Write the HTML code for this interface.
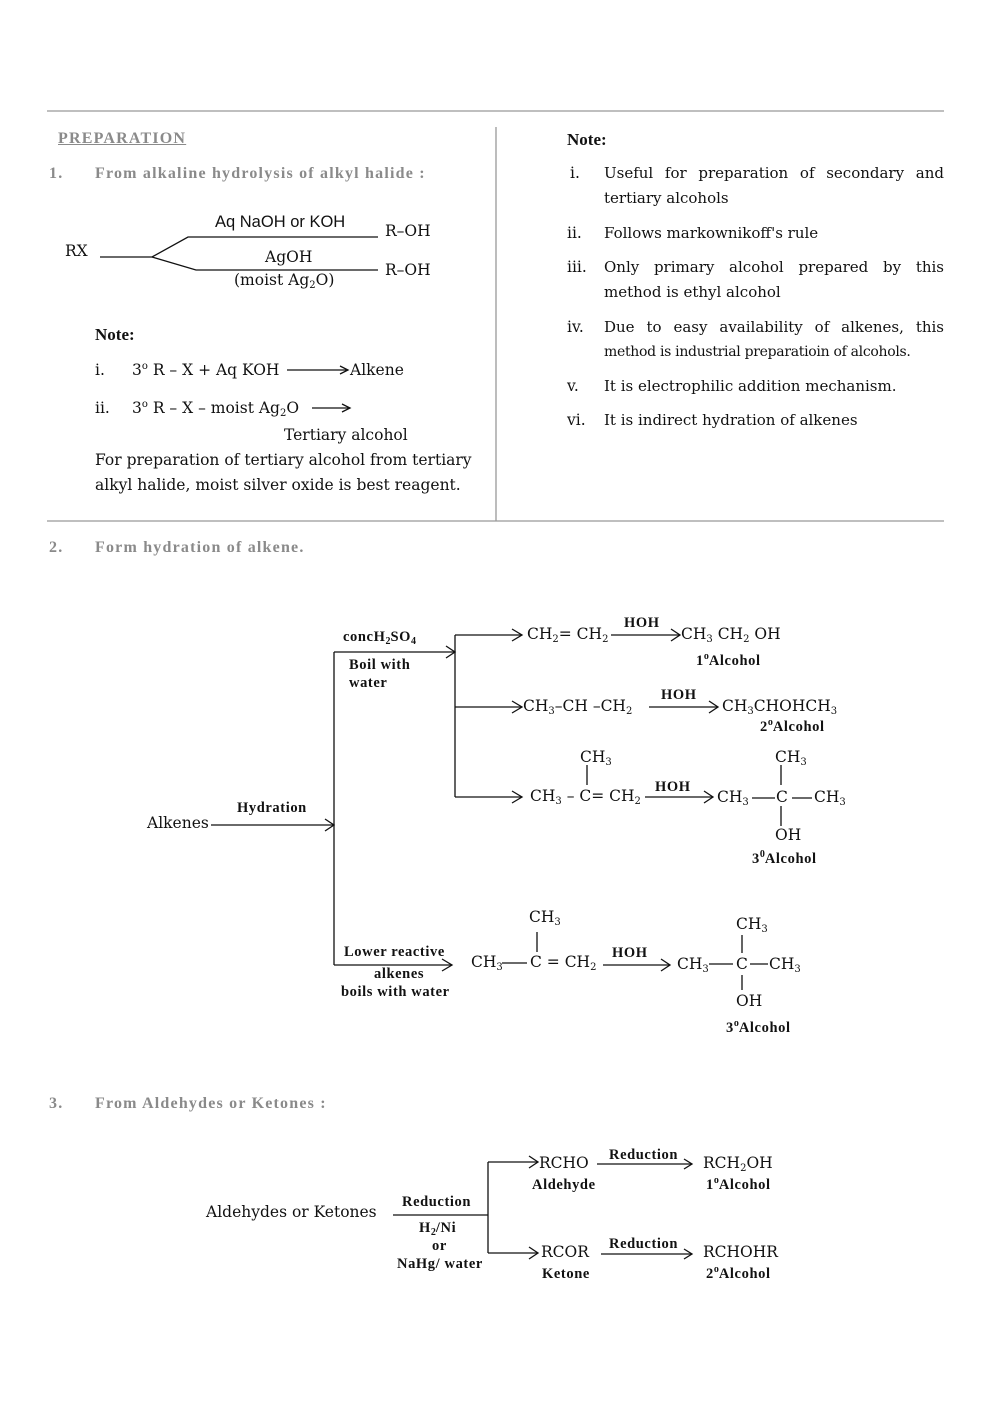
<!DOCTYPE html>
<html><head><meta charset="utf-8"><style>
body{margin:0;width:992px;height:1403px;background:#fff;position:relative;font-family:"DejaVu Serif",serif;color:#111;overflow:hidden}
.t{position:absolute;font-size:15.5px;white-space:nowrap;line-height:1;font-family:"DejaVu Serif",serif}
.b{font-weight:bold;font-family:"Liberation Serif",serif;font-size:16px}
.n{font-size:17px}
.g{color:#8a8a8a;font-weight:bold;font-family:"Liberation Serif",serif;font-size:16px;letter-spacing:1.2px}
.s{font-size:14.5px;letter-spacing:0.6px}
sub{font-size:10px;vertical-align:-3px;line-height:0;letter-spacing:0}
sup{font-size:10px;vertical-align:6px;line-height:0;letter-spacing:0}
.j{position:absolute;font-size:15px;line-height:1;width:340px;text-align:justify;text-align-last:justify;white-space:nowrap;font-family:"DejaVu Serif",serif}
svg{position:absolute;left:0;top:0}
</style></head><body>
<svg width="992" height="1403" stroke="#111" stroke-width="1.3" fill="none">
<line x1="47" y1="111" x2="944" y2="111" stroke="#999"/>
<line x1="47" y1="521" x2="944" y2="521" stroke="#999"/>
<line x1="496" y1="127" x2="496" y2="521" stroke="#999"/>
<polyline points="100,257 152,257 188,237 378,237"/>
<polyline points="152,257 196,270 378,270"/>
<line x1="287" y1="370" x2="348" y2="370"/><polyline points="340,366 348,370 340,374"/>
<line x1="312" y1="408" x2="350" y2="408"/><polyline points="342,404 350,408 342,412"/>
<line x1="211" y1="825" x2="333" y2="825"/><polyline points="325,819 334,825 325,831"/>
<line x1="334" y1="652" x2="334" y2="965"/>
<line x1="334" y1="652" x2="455" y2="652"/><polyline points="446,646 455,652 446,658"/>
<line x1="455" y1="635" x2="455" y2="797"/>
<line x1="455" y1="635" x2="522" y2="635"/><polyline points="512,629 522,635 512,641"/>
<line x1="455" y1="707" x2="522" y2="707"/><polyline points="512,701 522,707 512,713"/>
<line x1="455" y1="797" x2="522" y2="797"/><polyline points="512,791 522,797 512,803"/>
<line x1="334" y1="965" x2="452" y2="965"/><polyline points="442,959 452,965 442,971"/>
<line x1="611" y1="635" x2="680" y2="635"/><polyline points="671,629 680,635 671,641"/>
<line x1="649" y1="707" x2="718" y2="707"/><polyline points="709,701 718,707 709,713"/>
<line x1="645" y1="797" x2="713" y2="797"/><polyline points="704,791 713,797 704,803"/>
<line x1="603" y1="965" x2="670" y2="965"/><polyline points="661,959 670,965 661,971"/>
<line x1="587" y1="765" x2="587" y2="785"/>
<line x1="781" y1="765" x2="781" y2="785"/><line x1="781" y1="806" x2="781" y2="826"/>
<line x1="752" y1="798" x2="775" y2="798"/><line x1="792" y1="798" x2="812" y2="798"/>
<line x1="537" y1="932" x2="537" y2="952"/>
<line x1="742" y1="935" x2="742" y2="953"/><line x1="742" y1="975" x2="742" y2="990"/>
<line x1="502" y1="963" x2="527" y2="963"/><line x1="709" y1="964" x2="733" y2="964"/><line x1="750" y1="964" x2="768" y2="964"/>
<line x1="393" y1="1215" x2="488" y2="1215"/>
<line x1="488" y1="1162" x2="488" y2="1253"/>
<line x1="488" y1="1162" x2="538" y2="1162"/><polyline points="529,1156 538,1162 529,1168"/>
<line x1="488" y1="1253" x2="538" y2="1253"/><polyline points="529,1247 538,1253 529,1259"/>
<line x1="597" y1="1164" x2="692" y2="1164"/><polyline points="684,1159 692,1164 684,1169"/>
<line x1="601" y1="1254" x2="692" y2="1254"/><polyline points="684,1249 692,1254 684,1259"/>
</svg>

<div class="t g" style="left:58px;top:131px;text-decoration:underline">PREPARATION</div>
<div class="t g" style="left:49px;top:166px">1.</div>
<div class="t g" style="left:95px;top:166px">From alkaline hydrolysis of alkyl halide :</div>
<div class="t" style="left:215px;top:214px;font-family:'Liberation Sans',sans-serif;font-size:16.5px">Aq NaOH or KOH</div>
<div class="t" style="left:385px;top:224px">R–OH</div>
<div class="t" style="left:65px;top:244px">RX</div>
<div class="t" style="left:265px;top:250px">AgOH</div>
<div class="t" style="left:234px;top:273px">(moist Ag<sub>2</sub>O)</div>
<div class="t" style="left:385px;top:263px">R–OH</div>
<div class="t b n" style="left:95px;top:326px">Note:</div>
<div class="t" style="left:95px;top:363px">i.</div>
<div class="t" style="left:132px;top:363px">3<sup>o</sup> R – X + Aq KOH</div>
<div class="t" style="left:350px;top:363px">Alkene</div>
<div class="t" style="left:95px;top:401px">ii.</div>
<div class="t" style="left:132px;top:401px">3<sup>o</sup> R – X – moist Ag<sub>2</sub>O</div>
<div class="t" style="left:284px;top:428px">Tertiary alcohol</div>
<div class="t" style="left:95px;top:453px">For preparation of tertiary alcohol from tertiary</div>
<div class="t" style="left:95px;top:478px">alkyl halide, moist silver oxide is best reagent.</div>

<div class="t b n" style="left:567px;top:131px">Note:</div>
<div class="t" style="left:570px;top:166px">i.</div>
<div class="j" style="left:604px;top:166px">Useful for preparation of secondary and</div>
<div class="t" style="left:604px;top:191px;font-size:15px">tertiary alcohols</div>
<div class="t" style="left:567px;top:226px">ii.</div>
<div class="t" style="left:604px;top:226px;font-size:15px">Follows markownikoff's rule</div>
<div class="t" style="left:567px;top:260px">iii.</div>
<div class="j" style="left:604px;top:260px">Only primary alcohol prepared by this</div>
<div class="t" style="left:604px;top:285px;font-size:15px">method is ethyl alcohol</div>
<div class="t" style="left:567px;top:320px">iv.</div>
<div class="j" style="left:604px;top:320px">Due to easy availability of alkenes, this</div>
<div class="t" style="left:604px;top:345px;font-size:14px;letter-spacing:-0.3px">method is industrial preparatioin of alcohols.</div>
<div class="t" style="left:567px;top:379px">v.</div>
<div class="t" style="left:604px;top:379px;font-size:15px">It is electrophilic addition mechanism.</div>
<div class="t" style="left:567px;top:413px">vi.</div>
<div class="t" style="left:604px;top:413px;font-size:15px">It is indirect hydration of alkenes</div>

<div class="t g" style="left:49px;top:540px">2.</div>
<div class="t g" style="left:95px;top:540px">Form hydration of alkene.</div>
<div class="t b s" style="left:343px;top:630px">concH<sub>2</sub>SO<sub>4</sub></div>
<div class="t b s" style="left:349px;top:658px">Boil with</div>
<div class="t b s" style="left:349px;top:676px">water</div>
<div class="t" style="left:147px;top:816px">Alkenes</div>
<div class="t b s" style="left:237px;top:801px">Hydration</div>
<div class="t" style="left:527px;top:627px">CH<sub>2</sub>= CH<sub>2</sub></div>
<div class="t b s" style="left:624px;top:616px">HOH</div>
<div class="t" style="left:681px;top:627px">CH<sub>3</sub> CH<sub>2</sub> OH</div>
<div class="t b s" style="left:696px;top:654px">1<sup>o</sup>Alcohol</div>
<div class="t" style="left:523px;top:699px">CH<sub>3</sub>–CH –CH<sub>2</sub></div>
<div class="t b s" style="left:661px;top:688px">HOH</div>
<div class="t" style="left:722px;top:699px">CH<sub>3</sub>CHOHCH<sub>3</sub></div>
<div class="t b s" style="left:760px;top:720px">2<sup>o</sup>Alcohol</div>
<div class="t" style="left:580px;top:750px">CH<sub>3</sub></div>
<div class="t" style="left:530px;top:789px">CH<sub>3</sub> – C= CH<sub>2</sub></div>
<div class="t b s" style="left:655px;top:780px">HOH</div>
<div class="t" style="left:775px;top:750px">CH<sub>3</sub></div>
<div class="t" style="left:717px;top:790px">CH<sub>3</sub></div>
<div class="t" style="left:776px;top:790px">C</div>
<div class="t" style="left:814px;top:790px">CH<sub>3</sub></div>
<div class="t" style="left:775px;top:828px">OH</div>
<div class="t b s" style="left:752px;top:852px">3<sup>0</sup>Alcohol</div>
<div class="t b s" style="left:344px;top:945px">Lower reactive</div>
<div class="t b s" style="left:374px;top:967px">alkenes</div>
<div class="t b s" style="left:341px;top:985px">boils with water</div>
<div class="t" style="left:529px;top:910px">CH<sub>3</sub></div>
<div class="t" style="left:471px;top:955px">CH<sub>3</sub></div>
<div class="t" style="left:530px;top:955px">C = CH<sub>2</sub></div>
<div class="t b s" style="left:612px;top:946px">HOH</div>
<div class="t" style="left:736px;top:917px">CH<sub>3</sub></div>
<div class="t" style="left:677px;top:957px">CH<sub>3</sub></div>
<div class="t" style="left:736px;top:957px">C</div>
<div class="t" style="left:769px;top:957px">CH<sub>3</sub></div>
<div class="t" style="left:736px;top:994px">OH</div>
<div class="t b s" style="left:726px;top:1021px">3<sup>o</sup>Alcohol</div>

<div class="t g" style="left:49px;top:1096px">3.</div>
<div class="t g" style="left:95px;top:1096px">From Aldehydes or Ketones :</div>
<div class="t" style="left:206px;top:1205px">Aldehydes or Ketones</div>
<div class="t b s" style="left:402px;top:1195px">Reduction</div>
<div class="t b s" style="left:419px;top:1221px">H<sub>2</sub>/Ni</div>
<div class="t b s" style="left:432px;top:1239px">or</div>
<div class="t b s" style="left:397px;top:1257px">NaHg/ water</div>
<div class="t" style="left:539px;top:1156px">RCHO</div>
<div class="t b s" style="left:609px;top:1148px">Reduction</div>
<div class="t" style="left:703px;top:1156px">RCH<sub>2</sub>OH</div>
<div class="t b s" style="left:532px;top:1178px">Aldehyde</div>
<div class="t b s" style="left:706px;top:1178px">1<sup>o</sup>Alcohol</div>
<div class="t" style="left:541px;top:1245px">RCOR</div>
<div class="t b s" style="left:609px;top:1237px">Reduction</div>
<div class="t" style="left:703px;top:1245px">RCHOHR</div>
<div class="t b s" style="left:542px;top:1267px">Ketone</div>
<div class="t b s" style="left:706px;top:1267px">2<sup>o</sup>Alcohol</div>
</body></html>
